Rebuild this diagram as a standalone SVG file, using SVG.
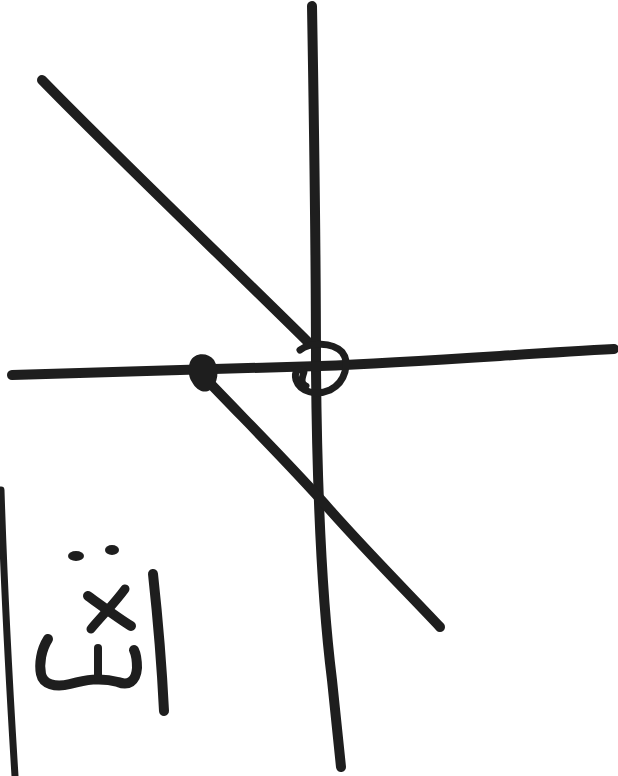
<svg xmlns="http://www.w3.org/2000/svg" width="618" height="776" viewBox="0 0 618 776">
<style>
.s{fill:none;stroke:#1e1e1e;stroke-linecap:round;stroke-linejoin:round}
.f{fill:#1e1e1e}
</style>
<rect width="618" height="776" fill="#fff"/>
<g id="lines">
<path class="s" stroke-width="10" d="M312,6 C314,120 316,250 316,370 C317,480 322,600 332,680 C336,720 339,750 341,767"/>
<path class="s" stroke-width="10" d="M12,375 C120,372 220,369 320,366 C420,362 520,354 614,349"/>
<path class="s" stroke-width="10" d="M42,80 C110,150 225,260 308,342"/>
<path class="s" stroke-width="10" d="M205,378 C250,425 300,475 330,510 C370,555 410,595 440,627"/>
<path class="s" stroke-width="7" d="M1,490 C4,585 9,680 15,776"/>
</g>
<g id="points">
<path class="f" d="M190,362 C194,352 208,352 214,360 C220,370 218,384 210,390 C204,394 196,390 192,382 C188,376 188,368 190,362 Z"/>
<path class="s" stroke-width="7" d="M300,350 C310,342 332,342 342,352 C350,362 346,382 330,390 C316,396 300,392 296,380 C294,372 298,366 304,372 C302,378 300,384 306,386"/>
</g>
<g id="scribble">
<ellipse class="f" cx="76" cy="556" rx="8" ry="5"/>
<ellipse class="f" cx="112" cy="550" rx="7" ry="5"/>
<path class="s" stroke-width="10" d="M88,596 C102,606 118,618 131,626"/>
<path class="s" stroke-width="9" d="M125,589 C114,604 100,618 91,629"/>
<path class="s" stroke-width="10" d="M48,639 C41,650 39,664 41,674 C43,684 55,688 70,684 C85,680 100,677 118,682 C128,686 136,682 137,668 C137,660 136,654 134,650"/>
<path class="s" stroke-width="8" d="M98,648 C98,658 98,668 98,678"/>
<path class="s" stroke-width="10" d="M153,574 C158,620 162,670 164,711"/>
</g>
</svg>
